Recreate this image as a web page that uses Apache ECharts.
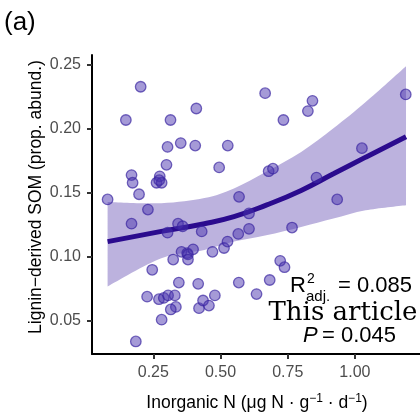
<!DOCTYPE html>
<html><head><meta charset="utf-8">
<script src="https://cdn.jsdelivr.net/npm/echarts@6/dist/echarts.min.js"></script>
<style>html,body{margin:0;padding:0;background:#fff}#c{width:420px;height:414px}</style>
</head><body><div id="c"></div>
<script>
// Observed points: inorganic N (x) and lignin-derived SOM (y)
const inorganicN = [0.203,0.148,0.314,0.410,0.303,0.352,0.406,0.299,0.169,0.173,0.274,0.262,0.281,0.272,0.197,0.080,0.230,0.169,0.342,0.359,0.303,0.430,0.355,0.376,0.379,0.398,0.324,0.379,0.246,0.345,0.417,0.227,0.271,0.289,0.305,0.330,0.334,0.315,0.420,0.281,0.185,0.435,0.457,0.479,0.568,0.634,0.683,0.722,0.738,0.470,0.513,0.526,0.566,0.606,0.606,0.569,0.766,0.679,0.695,0.495,0.527,0.666,0.842,0.825,0.734,0.857,1.189,1.026,0.934];
const ligninSOM = [0.233,0.207,0.207,0.216,0.186,0.189,0.187,0.172,0.164,0.158,0.163,0.158,0.158,0.160,0.149,0.145,0.137,0.126,0.126,0.124,0.119,0.120,0.104,0.103,0.102,0.106,0.098,0.098,0.090,0.080,0.079,0.069,0.067,0.068,0.070,0.070,0.061,0.059,0.060,0.051,0.034,0.066,0.062,0.070,0.080,0.071,0.082,0.097,0.092,0.104,0.107,0.112,0.118,0.122,0.134,0.147,0.123,0.167,0.169,0.170,0.187,0.228,0.222,0.214,0.207,0.162,0.227,0.185,0.145];
// Fitted curve and confidence band
const fitX = [0.08,0.28,0.44,0.55,0.67,0.80,0.92,1.04,1.19];
const fitY = [0.112,0.120,0.126,0.1315,0.1405,0.152,0.165,0.178,0.194];
const fitLower = [0.077,0.099,0.1055,0.112,0.117,0.1235,0.130,0.1365,0.1405];
const fitUpper = [0.143,0.142,0.146,0.1535,0.1665,0.182,0.2005,0.221,0.249];
const xTicks = [0.25,0.50,0.75,1.00];
const yTicks = [0.05,0.10,0.15,0.20,0.25];

const pts = inorganicN.map((x,i)=>[x, ligninSOM[i]]);
const bandData = fitX.map((x,i)=>[x, fitLower[i], fitUpper[i]]);
const lineData = fitX.map((x,i)=>[x, fitY[i]]);

// smooth path through pixel points (Catmull-Rom -> cubic Bezier)
function smoothSeg(p, startWithMove) {
  let d = startWithMove ? 'M' + p[0][0] + ' ' + p[0][1] : 'L' + p[0][0] + ' ' + p[0][1];
  for (let i = 0; i < p.length - 1; i++) {
    const p0 = p[Math.max(i - 1, 0)], p1 = p[i], p2 = p[i + 1], p3 = p[Math.min(i + 2, p.length - 1)];
    const c1 = [p1[0] + (p2[0] - p0[0]) / 6, p1[1] + (p2[1] - p0[1]) / 6];
    const c2 = [p2[0] - (p3[0] - p1[0]) / 6, p2[1] - (p3[1] - p1[1]) / 6];
    d += ' C' + c1[0] + ' ' + c1[1] + ' ' + c2[0] + ' ' + c2[1] + ' ' + p2[0] + ' ' + p2[1];
  }
  return d;
}

const chart = echarts.init(document.getElementById('c'), null, {renderer:'canvas'});
const sans = 'Liberation Sans, Arial, sans-serif';
chart.setOption({
  animation:false,
  backgroundColor:'#fff',
  grid:{left:92, right:0, top:55, bottom:60},
  xAxis:{
    type:'value', min:0.022, max:1.242,
    axisLine:{show:true, onZero:false, lineStyle:{color:'#000', width:2}},
    axisTick:{show:true, length:5, lineStyle:{color:'#333', width:2}, customValues:xTicks},
    axisLabel:{color:'#4d4d4d', fontSize:16, fontFamily:sans, margin:11, customValues:xTicks, formatter:v=>v.toFixed(2)},
    splitLine:{show:false}
  },
  yAxis:{
    type:'value', min:0.0242, max:0.2578,
    axisLine:{show:true, onZero:false, lineStyle:{color:'#000', width:2}},
    axisTick:{show:true, length:5, lineStyle:{color:'#333', width:2}, customValues:yTicks},
    axisLabel:{color:'#4d4d4d', fontSize:16, fontFamily:sans, margin:11, customValues:yTicks, formatter:v=>v.toFixed(2)},
    splitLine:{show:false}
  },
  series:[
    {type:'custom', data:bandData, z:1, silent:true,
     encode:{x:0, y:[1,2]},
     renderItem:function(params, api){
       if (params.dataIndex !== 0) return null;
       const up = bandData.map(r => api.coord([r[0], r[2]]));
       const lo = bandData.map(r => api.coord([r[0], r[1]])).reverse();
       const d = smoothSeg(up, true) + ' ' + smoothSeg(lo, false) + ' Z';
       return {type:'path', shape:{pathData:d}, style:{fill:'rgb(188,178,222)', stroke:null}};
     }},
    {type:'line', data:lineData, smooth:true, symbol:'none', lineStyle:{color:'#2b0b8e', width:5}, z:5},
    {type:'scatter', data:pts, symbolSize:10.5,
     itemStyle:{color:'rgba(72,50,175,0.62)', borderColor:'rgba(55,35,160,0.85)', borderWidth:1.3}, z:10}
  ],
  graphic:[
    {type:'text', z:100, x:4, y:23, style:{text:'(a)', font:'26px '+sans, fill:'#000', textAlign:'left', textVerticalAlign:'middle'}},
    {type:'text', z:100, x:36, y:197, rotation:Math.PI/2, style:{text:'Lignin\u2212derived SOM (prop. abund.)', font:'17.5px '+sans, fill:'#000', textAlign:'center', textVerticalAlign:'middle'}},
    {type:'text', z:100, x:257, y:403, style:{rich:{
        n:{fontSize:17.5, fontFamily:sans, fill:'#000'},
        s:{fontSize:12, fontFamily:sans, fill:'#000', verticalAlign:'top', padding:[0,0,8,0]}},
      text:'{n|Inorganic N (\u03bcg N \u00b7 g}{s|\u22121}{n| \u00b7 d}{s|\u22121}{n|)}', textAlign:'center', textVerticalAlign:'middle'}},
    {type:'text', z:100, x:290, y:286, style:{text:'R', font:'22px '+sans, fill:'#000', textAlign:'left', textVerticalAlign:'middle'}},
    {type:'text', z:100, x:307, y:279, style:{text:'2', font:'14px '+sans, fill:'#000', textAlign:'left', textVerticalAlign:'middle'}},
    {type:'text', z:100, x:306, y:297, style:{text:'adj.', font:'15px '+sans, fill:'#000', textAlign:'left', textVerticalAlign:'middle'}},
    {type:'text', z:100, x:338, y:286, style:{text:'= 0.085', font:'22px '+sans, fill:'#000', textAlign:'left', textVerticalAlign:'middle'}},
    {type:'text', z:100, x:343, y:313, style:{text:'This article', font:'26px DejaVu Serif, serif', fill:'#000', textAlign:'center', textVerticalAlign:'middle'}},
    {type:'text', z:100, x:303, y:336, style:{text:'P', font:'italic 22px '+sans, fill:'#000', textAlign:'left', textVerticalAlign:'middle'}},
    {type:'text', z:100, x:322, y:336, style:{text:'= 0.045', font:'22px '+sans, fill:'#000', textAlign:'left', textVerticalAlign:'middle'}}
  ]
});
</script></body></html>
